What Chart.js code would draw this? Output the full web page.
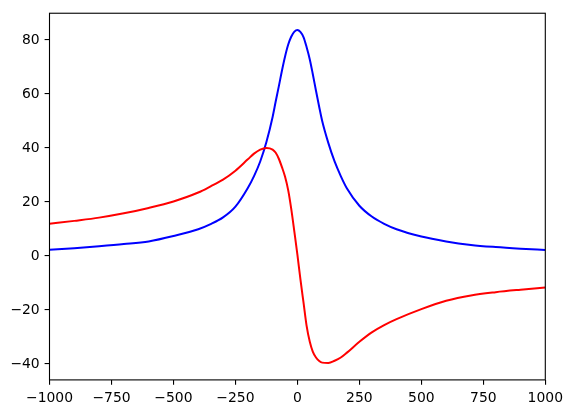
<!DOCTYPE html>
<html>
<head>
<meta charset="utf-8">
<script src="https://cdn.jsdelivr.net/npm/chart.js@4/dist/chart.umd.min.js"></script>
<style>
  html, body { margin: 0; padding: 0; background: #fff; }
  canvas { display: block; }
</style>
</head>
<body>
<canvas id="c" width="572" height="413"></canvas>
<script>
// Data
const xValues = [-1000, -900, -800, -700, -600, -500, -400, -350, -300, -250, -200, -175, -150, -125, -100, -88, -75, -62, -50, -37, -25, -12, 0, 12, 25, 37, 50, 62, 75, 88, 100, 125, 150, 175, 200, 250, 300, 350, 400, 500, 600, 700, 800, 900, 1000];
const blueValues = [2.3, 2.9, 3.6, 4.4, 5.4, 7.4, 9.9, 11.8, 14.3, 18.3, 25.2, 29.6, 35.0, 42.2, 51.5, 57.0, 62.8, 68.8, 73.8, 78.3, 81.2, 83.1, 83.7, 83.0, 81.0, 77.4, 72.8, 67.4, 61.2, 55.2, 50.0, 41.8, 35.0, 29.6, 25.0, 18.6, 14.6, 11.9, 9.9, 7.2, 5.4, 4.1, 3.3, 2.7, 2.2];
const redValues = [11.9, 13.0, 14.2, 15.8, 17.8, 20.2, 23.5, 25.8, 28.3, 31.6, 35.8, 37.9, 39.4, 40.0, 39.4, 38.3, 36.0, 32.8, 29.4, 24.3, 17.5, 8.8, 0.5, -8.5, -17.5, -25.8, -31.8, -35.4, -37.6, -38.9, -39.5, -39.6, -38.8, -37.6, -35.8, -31.8, -28.3, -25.6, -23.4, -19.7, -16.6, -14.6, -13.4, -12.5, -11.7];
const xTicks = [-1000, -750, -500, -250, 0, 250, 500, 750, 1000];
const yTicks = [-40, -20, 0, 20, 40, 60, 80];

const toPoints = vals => xValues.map((x, i) => ({ x: x, y: vals[i] }));
const fmt = v => (v < 0 ? '\u2212' + Math.abs(v) : String(v));

const frame = {
  id: 'frame',
  afterDatasetsDraw(chart) {
    const a = chart.chartArea, ctx = chart.ctx;
    ctx.save();
    ctx.strokeStyle = '#000';
    ctx.lineWidth = 1.1;
    ctx.strokeRect(a.left, a.top, a.right - a.left, a.bottom - a.top);
    ctx.restore();
  }
};

const font = { family: 'DejaVu Sans', size: 13.9 };

new Chart(document.getElementById('c'), {
  type: 'line',
  data: {
    datasets: [
      { data: toPoints(redValues), borderColor: '#ff0000', borderWidth: 2, pointRadius: 0, fill: false, cubicInterpolationMode: 'monotone', order: 0 },
      { data: toPoints(blueValues), borderColor: '#0000ff', borderWidth: 2, pointRadius: 0, fill: false, cubicInterpolationMode: 'monotone', order: 1 }
    ]
  },
  options: {
    responsive: false,
    devicePixelRatio: 1,
    animation: false,
    events: [],
    layout: { padding: { left: 0, right: 26.7, top: 10.3, bottom: 0 } },
    plugins: { legend: { display: false }, tooltip: { enabled: false } },
    scales: {
      x: {
        type: 'linear',
        min: -1000, max: 1000,
        afterFit: s => { s.height = 33.1; },
        afterBuildTicks: s => { s.ticks = xTicks.map(v => ({ value: v })); },
        ticks: { color: '#000', font: font, padding: 4.9, maxRotation: 0, autoSkip: false, callback: fmt },
        grid: { drawOnChartArea: false, drawTicks: true, tickLength: 4.9, color: '#000', lineWidth: 1.1 },
        border: { display: false }
      },
      y: {
        type: 'linear',
        min: -45.9, max: 89.9,
        afterFit: s => { s.width = 49.5; },
        afterBuildTicks: s => { s.ticks = yTicks.map(v => ({ value: v })); },
        ticks: { color: '#000', font: font, padding: 4.9, autoSkip: false, callback: fmt },
        grid: { drawOnChartArea: false, drawTicks: true, tickLength: 4.9, color: '#000', lineWidth: 1.1 },
        border: { display: false }
      }
    }
  },
  plugins: [frame]
});
</script>
</body>
</html>
